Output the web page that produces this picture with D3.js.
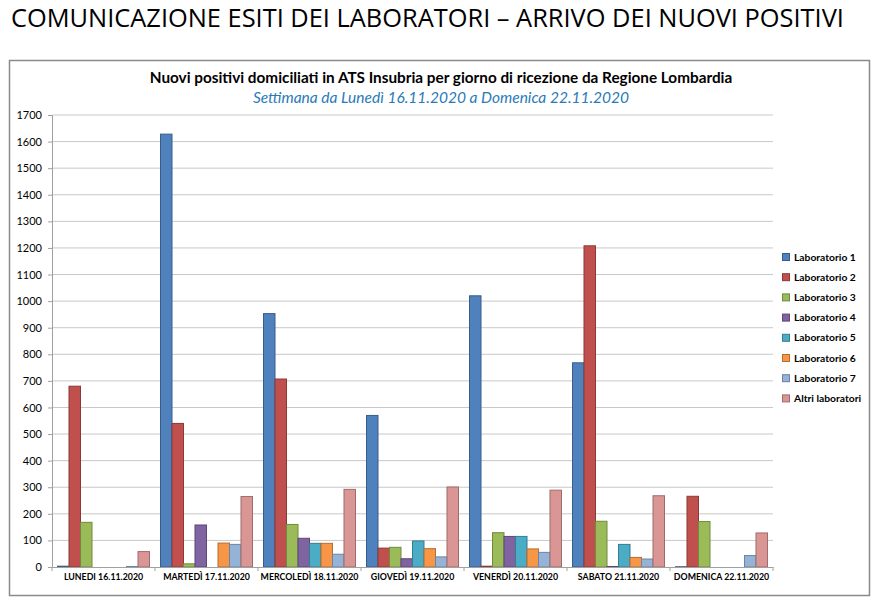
<!DOCTYPE html>
<html><head><meta charset="utf-8">
<script src="https://cdn.jsdelivr.net/npm/d3@7"></script>
<style>body{margin:0;background:#fff;}svg{display:block;}</style>
</head><body>
<svg id="c" width="879" height="602"></svg>
<script>
const days = ["LUNEDI 16.11.2020","MARTEDÌ 17.11.2020","MERCOLEDÌ 18.11.2020","GIOVEDÌ 19.11.2020","VENERDÌ 20.11.2020","SABATO 21.11.2020","DOMENICA 22.11.2020"];
const seriesNames = ["Laboratorio 1","Laboratorio 2","Laboratorio 3","Laboratorio 4","Laboratorio 5","Laboratorio 6","Laboratorio 7","Altri laboratori"];
const lab1  = [3, 1628, 953, 570, 1020, 768, 1];
const lab2  = [680, 540, 707, 71, 3, 1208, 266];
const lab3  = [168, 12, 160, 74, 129, 172, 171];
const lab4  = [0, 158, 108, 31, 115, 2, 0];
const lab5  = [0, 0, 89, 98, 115, 85, 0];
const lab6  = [0, 90, 89, 69, 68, 36, 0];
const lab7  = [2, 85, 48, 38, 55, 30, 43];
const altri = [58, 265, 292, 301, 289, 268, 128];
const yTicks = [0,100,200,300,400,500,600,700,800,900,1000,1100,1200,1300,1400,1500,1600,1700];
const colors = ["#4F81BD","#C0504D","#9BBB59","#8064A2","#4BACC6","#F79646","#95B3D7","#D99694"];
const strokes = ["#385D8A","#8C3836","#71893F","#5C4776","#357D91","#B66D31","#6D83A0","#9E6C6B"];
const series = [lab1,lab2,lab3,lab4,lab5,lab6,lab7,altri];

const svg = d3.select("#c");
svg.append("text").attr("x",11).attr("y",27).attr("font-family","'Open Sans'").attr("font-size",25.4)
  .attr("fill","#000").text("COMUNICAZIONE ESITI DEI LABORATORI – ARRIVO DEI NUOVI POSITIVI");
svg.append("rect").attr("x",9.5).attr("y",60.5).attr("width",860).attr("height",535)
  .attr("fill","#fff").attr("stroke","#8a8a8a").attr("stroke-width",1.5);

svg.append("text").attr("x",441).attr("y",83).attr("text-anchor","middle").attr("font-family","Lato")
  .attr("font-weight","bold").attr("font-size",15.3).attr("fill","#000")
  .text("Nuovi positivi domiciliati in ATS Insubria per giorno di ricezione da Regione Lombardia");
svg.append("text").attr("x",441).attr("y",103).attr("text-anchor","middle").attr("font-family","Lato")
  .attr("font-style","italic").attr("font-size",15.5).attr("fill","#2A7AB8")
  .text("Settimana da Lunedì 16.11.2020 a Domenica 22.11.2020");

const L=52, R=773, T=115, B=567;
const y = d3.scaleLinear().domain([0,1700]).range([B,T]);
const x0 = d3.scaleBand().domain(days).range([L,R]).padding(0);
const x1 = d3.scaleBand().domain(seriesNames).range([5.5, x0.bandwidth()-5.5]).padding(0);

// gridlines
svg.append("g").selectAll("line").data(yTicks.filter(d=>d>0)).join("line")
  .attr("x1",L).attr("x2",R).attr("y1",d=>y(d)).attr("y2",d=>y(d))
  .attr("stroke","#c8c8c8").attr("stroke-width",1);

// y axis
const ya = svg.append("g").attr("transform",`translate(${L},0)`)
  .call(d3.axisLeft(y).tickValues(yTicks).tickSize(4).tickPadding(6).tickFormat(d3.format("d")));
ya.select(".domain").attr("stroke","#a0a0a0");
ya.selectAll(".tick line").attr("stroke","#a0a0a0");
ya.selectAll("text").attr("font-family","Lato").attr("font-size",11).attr("fill","#000");

// bars
const g = svg.append("g");
days.forEach((d,i)=>{
  series.forEach((s,j)=>{
    const v = s[i];
    g.append("rect").attr("x",x0(d)+x1(seriesNames[j])).attr("width",x1.bandwidth())
      .attr("y",y(v)).attr("height",Math.max(0,B-y(v)))
      .attr("fill",colors[j]).attr("stroke",strokes[j]).attr("stroke-width",1);
  });
});

// x axis
const xa = svg.append("g").attr("transform",`translate(0,${B})`)
  .call(d3.axisBottom(x0).tickSize(0).tickPadding(7));
xa.select(".domain").attr("stroke","#a0a0a0");
xa.selectAll("text").attr("font-family","Lato").attr("font-weight","bold").attr("font-size",8.8).attr("fill","#000");
svg.append("g").selectAll("line").data(d3.range(days.length+1)).join("line")
  .attr("x1",i=>L+i*x0.step()).attr("x2",i=>L+i*x0.step()).attr("y1",B).attr("y2",B+4)
  .attr("stroke","#a0a0a0");

// legend
const lg = svg.append("g");
seriesNames.forEach((n,j)=>{
  const yy = 257 + j*20.2;
  lg.append("rect").attr("x",782.5).attr("y",yy-3.5).attr("width",7).attr("height",7)
    .attr("fill",colors[j]).attr("stroke",strokes[j]);
  lg.append("text").attr("x",794).attr("y",yy+3.5).attr("font-family","Lato").attr("font-weight","bold")
    .attr("font-size",10.3).attr("fill","#000").text(n);
});
</script>
</body></html>
